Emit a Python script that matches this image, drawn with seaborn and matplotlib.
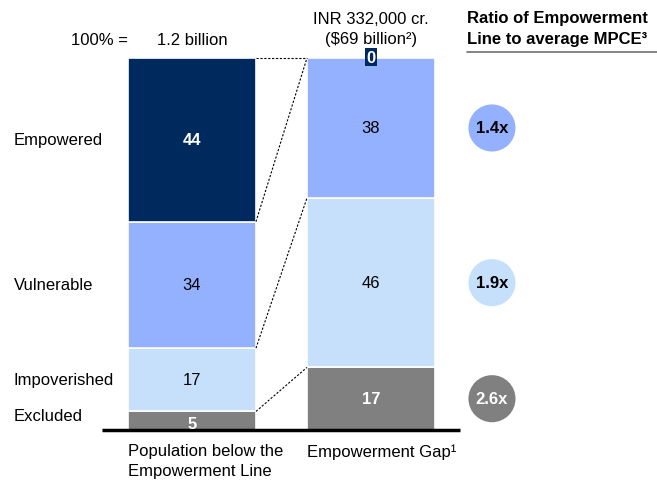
import numpy as np
import pandas as pd
import seaborn as sns
import matplotlib.pyplot as plt

# segments, bottom to top
segments = ["Excluded", "Impoverished", "Vulnerable", "Empowered"]
population = [5, 17, 34, 44]
gap = [17, 46, 38, 0]
ratios = ["2.6x", "1.9x", "1.4x", None]
colors = ["#808080", "#C6E0FB", "#94B1FF", "#00295E"]
label_colors = ["white", "black", "black", "white"]
label_bold = [True, False, False, True]

bar_names = ["Population below the\nEmpowerment Line", "Empowerment Gap\u00b9"]
bar_totals = ["1.2 billion", "INR 332,000 cr.\n($69 billion\u00b2)"]

sns.set_theme(style="white")
plt.rcParams["font.family"] = ["Liberation Sans", "DejaVu Sans"]
plt.rcParams["text.color"] = "black"

fig = plt.figure(figsize=(6.57, 4.81), dpi=100)
ax = fig.add_axes([0, 0, 1, 1])
ax.set_xlim(-1.0726, 2.598)
ax.set_ylim(-13.44, 115.86)
ax.axis("off")

fs = 12
width = 0.715
df = pd.DataFrame({"segment": segments, "pop": population, "gap": gap})
df["gap_pct"] = df["gap"] * 100 / df["gap"].sum()
df["pop_bottom"] = df["pop"].cumsum() - df["pop"]
df["gap_bottom"] = df["gap_pct"].cumsum() - df["gap_pct"]

for i, row in df.iterrows():
    ax.bar(0, row["pop"], bottom=row["pop_bottom"], width=width, color=colors[i],
           edgecolor="white", linewidth=1.2)
    if row["gap"] > 0:
        ax.bar(1, row["gap_pct"], bottom=row["gap_bottom"], width=width, color=colors[i],
               edgecolor="white", linewidth=1.2)
    fw = "bold" if label_bold[i] else "normal"
    ax.text(0, row["pop_bottom"] + row["pop"] / 2 - (0.8 if i == 0 else 0), str(row["pop"]),
            ha="center", va="center", fontsize=fs, color=label_colors[i], fontweight=fw)
    if row["gap"] > 0:
        ax.text(1, row["gap_bottom"] + row["gap_pct"] / 2, str(row["gap"]),
                ha="center", va="center", fontsize=fs, color=label_colors[i], fontweight=fw)
    else:
        ax.text(1, 100.2, str(row["gap"]), ha="center", va="center", fontsize=fs,
                color="white", fontweight="bold",
                bbox=dict(boxstyle="square,pad=0.1", fc=colors[i], ec="none"))
    # row labels on the left
    ly = row["pop_bottom"] + row["pop"] / 2 + (1.5 if i == 0 else 0)
    ax.text(-0.995, ly, row["segment"], ha="left", va="center", fontsize=fs, color="black")

# dotted connectors between the bars
pop_tops = df["pop_bottom"] + df["pop"]
gap_tops = df["gap_bottom"] + df["gap_pct"]
for a, b in zip(pop_tops, gap_tops):
    ax.plot([width / 2, 1 - width / 2], [a, b], color="black", linewidth=0.8,
            linestyle=(0, (2, 1.5)))

# ratio circles
circ = df[df["gap"] > 0].copy()
circ["x"] = 1.676
circ["y"] = circ["gap_bottom"] + circ["gap_pct"] / 2
sns.scatterplot(data=circ, x="x", y="y", hue="segment", palette=colors[:3], s=1150,
                linewidth=0, legend=False, ax=ax, clip_on=False)
for i, row in circ.iterrows():
    ax.text(row["x"], row["y"], ratios[i], ha="center", va="center", fontsize=fs,
            fontweight="bold", color="white" if i == 0 else "black")

# baseline
ax.plot([-0.503, 1.497], [0, 0], color="black", linewidth=2.5, solid_capstyle="butt")

# totals above bars
ax.text(-0.514, 105.0, "100% =", ha="center", va="center", fontsize=fs)
ax.text(0, 105.0, bar_totals[0], ha="center", va="center", fontsize=fs)
ax.text(1, 107.9, bar_totals[1], ha="center", va="center", fontsize=fs, linespacing=1.4)

# category labels below
ax.text(-width / 2, -3.6, bar_names[0], ha="left", va="top", fontsize=fs, linespacing=1.35)
ax.text(1 - width / 2, -3.6, bar_names[1], ha="left", va="top", fontsize=fs)

# header for ratio column
ax.text(1.536, 108.1, "Ratio of Empowerment\nLine to average MPCE\u00b3", ha="left", va="center",
        fontsize=fs, fontweight="bold", linespacing=1.45)
ax.plot([1.536, 2.598], [101.6, 101.6], color="#707070", linewidth=1.2)

fig.savefig("out.png", dpi=100)
